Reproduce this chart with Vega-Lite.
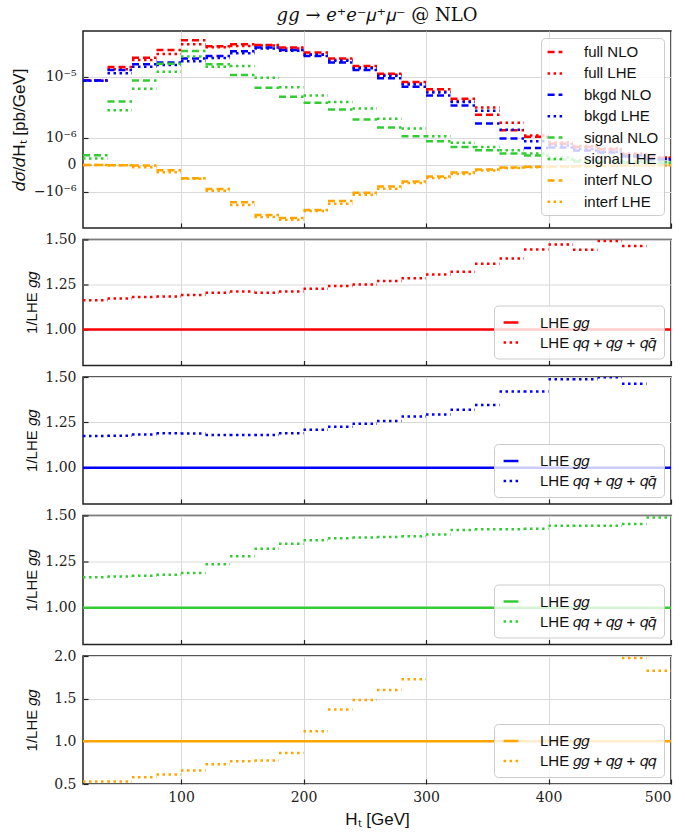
{
"$schema": "https://vega.github.io/schema/vega-lite/v6.json",
"padding": {"left": 9, "top": 6, "right": 8, "bottom": 5},
"background": "white",
"bounds": "flush",
"config": {
  "font": "Liberation Sans",
  "view": {"stroke": "#222222", "strokeWidth": 1.5},
  "axis": {"grid": true, "gridColor": "#d9d9d9", "gridWidth": 1, "domain": false, "tickColor": "#222222", "tickSize": -5, "tickWidth": 1.2, "labelFont": "DejaVu Serif", "labelFontSize": 14, "labelColor": "#222222", "labelPadding": 12, "titleFont": "Liberation Sans", "titleFontSize": 15, "titleFontWeight": "normal", "titleColor": "#111111"},
  "legend": {"title": null, "symbolType": "stroke", "symbolStrokeWidth": 2.5, "labelFontSize": 15, "labelFont": "Liberation Sans", "labelColor": "#111111", "fillColor": "rgba(255,255,255,0.8)", "strokeColor": "#cccccc", "cornerRadius": 4, "padding": 8, "offset": 7, "symbolSize": 220, "labelOffset": 20}
},
"datasets": {
"top": [
{"s":"full NLO","lo":20,"hi":40,"v":8.9e-6},{"s":"full NLO","lo":40,"hi":60,"v":1.352e-5},{"s":"full NLO","lo":60,"hi":80,"v":1.806e-5},{"s":"full NLO","lo":80,"hi":100,"v":2.278e-5},{"s":"full NLO","lo":100,"hi":120,"v":3.05e-5},{"s":"full NLO","lo":120,"hi":140,"v":2.55e-5},{"s":"full NLO","lo":140,"hi":160,"v":2.71e-5},{"s":"full NLO","lo":160,"hi":180,"v":2.65e-5},{"s":"full NLO","lo":180,"hi":200,"v":2.45e-5},{"s":"full NLO","lo":200,"hi":220,"v":2.105e-5},{"s":"full NLO","lo":220,"hi":240,"v":1.752e-5},{"s":"full NLO","lo":240,"hi":260,"v":1.394e-5},{"s":"full NLO","lo":260,"hi":280,"v":1.1e-5},{"s":"full NLO","lo":280,"hi":300,"v":8.42e-6},{"s":"full NLO","lo":300,"hi":320,"v":6.64e-6},{"s":"full NLO","lo":320,"hi":340,"v":4.86e-6},{"s":"full NLO","lo":340,"hi":360,"v":2.73e-6},{"s":"full NLO","lo":360,"hi":380,"v":1.44e-6},{"s":"full NLO","lo":380,"hi":400,"v":1.04e-6},{"s":"full NLO","lo":400,"hi":420,"v":6.9e-7},{"s":"full NLO","lo":420,"hi":440,"v":5.6e-7},{"s":"full NLO","lo":440,"hi":460,"v":4.6e-7},{"s":"full NLO","lo":460,"hi":480,"v":2.8e-7},{"s":"full NLO","lo":480,"hi":500,"v":1.8e-7},
{"s":"full LHE","lo":20,"hi":40,"v":8.8e-6},{"s":"full LHE","lo":40,"hi":60,"v":1.258e-5},{"s":"full LHE","lo":60,"hi":80,"v":1.678e-5},{"s":"full LHE","lo":80,"hi":100,"v":2.017e-5},{"s":"full LHE","lo":100,"hi":120,"v":2.71e-5},{"s":"full LHE","lo":120,"hi":140,"v":2.47e-5},{"s":"full LHE","lo":140,"hi":160,"v":2.57e-5},{"s":"full LHE","lo":160,"hi":180,"v":2.6e-5},{"s":"full LHE","lo":180,"hi":200,"v":2.38e-5},{"s":"full LHE","lo":200,"hi":220,"v":2.0e-5},{"s":"full LHE","lo":220,"hi":240,"v":1.689e-5},{"s":"full LHE","lo":240,"hi":260,"v":1.34e-5},{"s":"full LHE","lo":260,"hi":280,"v":1.059e-5},{"s":"full LHE","lo":280,"hi":300,"v":8.07e-6},{"s":"full LHE","lo":300,"hi":320,"v":6.21e-6},{"s":"full LHE","lo":320,"hi":340,"v":4.5e-6},{"s":"full LHE","lo":340,"hi":360,"v":3.58e-6},{"s":"full LHE","lo":360,"hi":380,"v":1.99e-6},{"s":"full LHE","lo":380,"hi":400,"v":1.11e-6},{"s":"full LHE","lo":400,"hi":420,"v":7.5e-7},{"s":"full LHE","lo":420,"hi":440,"v":6.0e-7},{"s":"full LHE","lo":440,"hi":460,"v":5.0e-7},{"s":"full LHE","lo":460,"hi":480,"v":3.2e-7},{"s":"full LHE","lo":480,"hi":500,"v":1.9e-7},
{"s":"bkgd NLO","lo":20,"hi":40,"v":8.85e-6},{"s":"bkgd NLO","lo":40,"hi":60,"v":1.231e-5},{"s":"bkgd NLO","lo":60,"hi":80,"v":1.47e-5},{"s":"bkgd NLO","lo":80,"hi":100,"v":1.55e-5},{"s":"bkgd NLO","lo":100,"hi":120,"v":1.752e-5},{"s":"bkgd NLO","lo":120,"hi":140,"v":1.897e-5},{"s":"bkgd NLO","lo":140,"hi":160,"v":2.19e-5},{"s":"bkgd NLO","lo":160,"hi":180,"v":2.45e-5},{"s":"bkgd NLO","lo":180,"hi":200,"v":2.278e-5},{"s":"bkgd NLO","lo":200,"hi":220,"v":1.897e-5},{"s":"bkgd NLO","lo":220,"hi":240,"v":1.55e-5},{"s":"bkgd NLO","lo":240,"hi":260,"v":1.231e-5},{"s":"bkgd NLO","lo":260,"hi":280,"v":9.48e-6},{"s":"bkgd NLO","lo":280,"hi":300,"v":7.25e-6},{"s":"bkgd NLO","lo":300,"hi":320,"v":5.43e-6},{"s":"bkgd NLO","lo":320,"hi":340,"v":3.84e-6},{"s":"bkgd NLO","lo":340,"hi":360,"v":1.93e-6},{"s":"bkgd NLO","lo":360,"hi":380,"v":9.5e-7},{"s":"bkgd NLO","lo":380,"hi":400,"v":5.2e-7},{"s":"bkgd NLO","lo":400,"hi":420,"v":5.35e-7},{"s":"bkgd NLO","lo":420,"hi":440,"v":4.2e-7},{"s":"bkgd NLO","lo":440,"hi":460,"v":3.5e-7},{"s":"bkgd NLO","lo":460,"hi":480,"v":2.2e-7},{"s":"bkgd NLO","lo":480,"hi":500,"v":1.31e-7},
{"s":"bkgd LHE","lo":20,"hi":40,"v":8.75e-6},{"s":"bkgd LHE","lo":40,"hi":60,"v":1.11e-5},{"s":"bkgd LHE","lo":60,"hi":80,"v":1.369e-5},{"s":"bkgd LHE","lo":80,"hi":100,"v":1.438e-5},{"s":"bkgd LHE","lo":100,"hi":120,"v":1.613e-5},{"s":"bkgd LHE","lo":120,"hi":140,"v":1.785e-5},{"s":"bkgd LHE","lo":140,"hi":160,"v":2.06e-5},{"s":"bkgd LHE","lo":160,"hi":180,"v":2.38e-5},{"s":"bkgd LHE","lo":180,"hi":200,"v":2.22e-5},{"s":"bkgd LHE","lo":200,"hi":220,"v":1.97e-5},{"s":"bkgd LHE","lo":220,"hi":240,"v":1.638e-5},{"s":"bkgd LHE","lo":240,"hi":260,"v":1.298e-5},{"s":"bkgd LHE","lo":260,"hi":280,"v":1.026e-5},{"s":"bkgd LHE","lo":280,"hi":300,"v":7.81e-6},{"s":"bkgd LHE","lo":300,"hi":320,"v":6.01e-6},{"s":"bkgd LHE","lo":320,"hi":340,"v":4.35e-6},{"s":"bkgd LHE","lo":340,"hi":360,"v":3.17e-6},{"s":"bkgd LHE","lo":360,"hi":380,"v":1.47e-6},{"s":"bkgd LHE","lo":380,"hi":400,"v":8.1e-7},{"s":"bkgd LHE","lo":400,"hi":420,"v":6.2e-7},{"s":"bkgd LHE","lo":420,"hi":440,"v":4.8e-7},{"s":"bkgd LHE","lo":440,"hi":460,"v":3.8e-7},{"s":"bkgd LHE","lo":460,"hi":480,"v":2.5e-7},{"s":"bkgd LHE","lo":480,"hi":500,"v":1.45e-7},
{"s":"signal NLO","lo":20,"hi":40,"v":2.6e-7},{"s":"signal NLO","lo":40,"hi":60,"v":4.42e-6},{"s":"signal NLO","lo":60,"hi":80,"v":8.88e-6},{"s":"signal NLO","lo":80,"hi":100,"v":1.502e-5},{"s":"signal NLO","lo":100,"hi":120,"v":2.21e-5},{"s":"signal NLO","lo":120,"hi":140,"v":1.47e-5},{"s":"signal NLO","lo":140,"hi":160,"v":1.052e-5},{"s":"signal NLO","lo":160,"hi":180,"v":7.02e-6},{"s":"signal NLO","lo":180,"hi":200,"v":5.2e-6},{"s":"signal NLO","lo":200,"hi":220,"v":4.23e-6},{"s":"signal NLO","lo":220,"hi":240,"v":3.33e-6},{"s":"signal NLO","lo":240,"hi":260,"v":2.27e-6},{"s":"signal NLO","lo":260,"hi":280,"v":1.62e-6},{"s":"signal NLO","lo":280,"hi":300,"v":1.07e-6},{"s":"signal NLO","lo":300,"hi":320,"v":8.1e-7},{"s":"signal NLO","lo":320,"hi":340,"v":5.6e-7},{"s":"signal NLO","lo":340,"hi":360,"v":4.3e-7},{"s":"signal NLO","lo":360,"hi":380,"v":3.2e-7},{"s":"signal NLO","lo":380,"hi":400,"v":2.5e-7},{"s":"signal NLO","lo":400,"hi":420,"v":1.31e-7},{"s":"signal NLO","lo":420,"hi":440,"v":7.6e-8},{"s":"signal NLO","lo":440,"hi":460,"v":6.3e-8},{"s":"signal NLO","lo":460,"hi":480,"v":5.0e-8},{"s":"signal NLO","lo":480,"hi":500,"v":4.2e-8},
{"s":"signal LHE","lo":20,"hi":40,"v":1.59e-7},{"s":"signal LHE","lo":40,"hi":60,"v":3.24e-6},{"s":"signal LHE","lo":60,"hi":80,"v":6.79e-6},{"s":"signal LHE","lo":80,"hi":100,"v":1.171e-5},{"s":"signal LHE","lo":100,"hi":120,"v":1.863e-5},{"s":"signal LHE","lo":120,"hi":140,"v":1.369e-5},{"s":"signal LHE","lo":140,"hi":160,"v":1.394e-5},{"s":"signal LHE","lo":160,"hi":180,"v":9.69e-6},{"s":"signal LHE","lo":180,"hi":200,"v":7.09e-6},{"s":"signal LHE","lo":200,"hi":220,"v":5.43e-6},{"s":"signal LHE","lo":220,"hi":240,"v":4.32e-6},{"s":"signal LHE","lo":240,"hi":260,"v":3.45e-6},{"s":"signal LHE","lo":260,"hi":280,"v":2.34e-6},{"s":"signal LHE","lo":280,"hi":300,"v":1.55e-6},{"s":"signal LHE","lo":300,"hi":320,"v":1.07e-6},{"s":"signal LHE","lo":320,"hi":340,"v":7.4e-7},{"s":"signal LHE","lo":340,"hi":360,"v":5.6e-7},{"s":"signal LHE","lo":360,"hi":380,"v":4.3e-7},{"s":"signal LHE","lo":380,"hi":400,"v":3.2e-7},{"s":"signal LHE","lo":400,"hi":420,"v":1.9e-7},{"s":"signal LHE","lo":420,"hi":440,"v":1.17e-7},{"s":"signal LHE","lo":440,"hi":460,"v":9e-8},{"s":"signal LHE","lo":460,"hi":480,"v":7.6e-8},{"s":"signal LHE","lo":480,"hi":500,"v":5.5e-8},
{"s":"interf NLO","lo":20,"hi":40,"v":-1e-8},{"s":"interf NLO","lo":40,"hi":60,"v":-1.7e-8},{"s":"interf NLO","lo":60,"hi":80,"v":-2.5e-8},{"s":"interf NLO","lo":80,"hi":100,"v":-1.51e-7},{"s":"interf NLO","lo":100,"hi":120,"v":-4.1e-7},{"s":"interf NLO","lo":120,"hi":140,"v":-8.7e-7},{"s":"interf NLO","lo":140,"hi":160,"v":-1.674e-6},{"s":"interf NLO","lo":160,"hi":180,"v":-2.79e-6},{"s":"interf NLO","lo":180,"hi":200,"v":-3.12e-6},{"s":"interf NLO","lo":200,"hi":220,"v":-2.3e-6},{"s":"interf NLO","lo":220,"hi":240,"v":-1.574e-6},{"s":"interf NLO","lo":240,"hi":260,"v":-1.055e-6},{"s":"interf NLO","lo":260,"hi":280,"v":-7.5e-7},{"s":"interf NLO","lo":280,"hi":300,"v":-5.35e-7},{"s":"interf NLO","lo":300,"hi":320,"v":-3.5e-7},{"s":"interf NLO","lo":320,"hi":340,"v":-2.19e-7},{"s":"interf NLO","lo":340,"hi":360,"v":-1.31e-7},{"s":"interf NLO","lo":360,"hi":380,"v":-7.6e-8},{"s":"interf NLO","lo":380,"hi":400,"v":-5.8e-8},{"s":"interf NLO","lo":400,"hi":420,"v":-5e-8},{"s":"interf NLO","lo":420,"hi":440,"v":-4e-8},{"s":"interf NLO","lo":440,"hi":460,"v":-3e-8},{"s":"interf NLO","lo":460,"hi":480,"v":-2.5e-8},{"s":"interf NLO","lo":480,"hi":500,"v":-2e-8},
{"s":"interf LHE","lo":20,"hi":40,"v":-1.2e-8},{"s":"interf LHE","lo":40,"hi":60,"v":-2e-8},{"s":"interf LHE","lo":60,"hi":80,"v":-6.8e-8},{"s":"interf LHE","lo":80,"hi":100,"v":-2.1e-7},{"s":"interf LHE","lo":100,"hi":120,"v":-4.3e-7},{"s":"interf LHE","lo":120,"hi":140,"v":-9.6e-7},{"s":"interf LHE","lo":140,"hi":160,"v":-1.872e-6},{"s":"interf LHE","lo":160,"hi":180,"v":-3.01e-6},{"s":"interf LHE","lo":180,"hi":200,"v":-3.33e-6},{"s":"interf LHE","lo":200,"hi":220,"v":-2.4e-6},{"s":"interf LHE","lo":220,"hi":240,"v":-1.771e-6},{"s":"interf LHE","lo":240,"hi":260,"v":-1.169e-6},{"s":"interf LHE","lo":260,"hi":280,"v":-8.5e-7},{"s":"interf LHE","lo":280,"hi":300,"v":-5.97e-7},{"s":"interf LHE","lo":300,"hi":320,"v":-4.0e-7},{"s":"interf LHE","lo":320,"hi":340,"v":-2.66e-7},{"s":"interf LHE","lo":340,"hi":360,"v":-1.55e-7},{"s":"interf LHE","lo":360,"hi":380,"v":-9e-8},{"s":"interf LHE","lo":380,"hi":400,"v":-6.5e-8},{"s":"interf LHE","lo":400,"hi":420,"v":-6e-8},{"s":"interf LHE","lo":420,"hi":440,"v":-4.5e-8},{"s":"interf LHE","lo":440,"hi":460,"v":-3.5e-8},{"s":"interf LHE","lo":460,"hi":480,"v":-3e-8},{"s":"interf LHE","lo":480,"hi":500,"v":-2.5e-8}
],
"ratio": [
{"p":"full","k":"LHE 𝑔𝑔","lo":20,"hi":500,"r":1},
{"p":"full","k":"LHE 𝑞𝑞 + 𝑞𝑔 + 𝑞𝑞̄","lo":20,"hi":40,"r":1.163},{"p":"full","k":"LHE 𝑞𝑞 + 𝑞𝑔 + 𝑞𝑞̄","lo":40,"hi":60,"r":1.172},{"p":"full","k":"LHE 𝑞𝑞 + 𝑞𝑔 + 𝑞𝑞̄","lo":60,"hi":80,"r":1.18},{"p":"full","k":"LHE 𝑞𝑞 + 𝑞𝑔 + 𝑞𝑞̄","lo":80,"hi":100,"r":1.183},{"p":"full","k":"LHE 𝑞𝑞 + 𝑞𝑔 + 𝑞𝑞̄","lo":100,"hi":120,"r":1.191},{"p":"full","k":"LHE 𝑞𝑞 + 𝑞𝑔 + 𝑞𝑞̄","lo":120,"hi":140,"r":1.204},{"p":"full","k":"LHE 𝑞𝑞 + 𝑞𝑔 + 𝑞𝑞̄","lo":140,"hi":160,"r":1.211},{"p":"full","k":"LHE 𝑞𝑞 + 𝑞𝑔 + 𝑞𝑞̄","lo":160,"hi":180,"r":1.204},{"p":"full","k":"LHE 𝑞𝑞 + 𝑞𝑔 + 𝑞𝑞̄","lo":180,"hi":200,"r":1.211},{"p":"full","k":"LHE 𝑞𝑞 + 𝑞𝑔 + 𝑞𝑞̄","lo":200,"hi":220,"r":1.226},{"p":"full","k":"LHE 𝑞𝑞 + 𝑞𝑔 + 𝑞𝑞̄","lo":220,"hi":240,"r":1.241},{"p":"full","k":"LHE 𝑞𝑞 + 𝑞𝑔 + 𝑞𝑞̄","lo":240,"hi":260,"r":1.25},{"p":"full","k":"LHE 𝑞𝑞 + 𝑞𝑔 + 𝑞𝑞̄","lo":260,"hi":280,"r":1.269},{"p":"full","k":"LHE 𝑞𝑞 + 𝑞𝑔 + 𝑞𝑞̄","lo":280,"hi":300,"r":1.285},{"p":"full","k":"LHE 𝑞𝑞 + 𝑞𝑔 + 𝑞𝑞̄","lo":300,"hi":320,"r":1.306},{"p":"full","k":"LHE 𝑞𝑞 + 𝑞𝑔 + 𝑞𝑞̄","lo":320,"hi":340,"r":1.321},{"p":"full","k":"LHE 𝑞𝑞 + 𝑞𝑔 + 𝑞𝑞̄","lo":340,"hi":360,"r":1.365},{"p":"full","k":"LHE 𝑞𝑞 + 𝑞𝑔 + 𝑞𝑞̄","lo":360,"hi":380,"r":1.395},{"p":"full","k":"LHE 𝑞𝑞 + 𝑞𝑔 + 𝑞𝑞̄","lo":380,"hi":400,"r":1.445},{"p":"full","k":"LHE 𝑞𝑞 + 𝑞𝑔 + 𝑞𝑞̄","lo":400,"hi":420,"r":1.472},{"p":"full","k":"LHE 𝑞𝑞 + 𝑞𝑔 + 𝑞𝑞̄","lo":420,"hi":440,"r":1.443},{"p":"full","k":"LHE 𝑞𝑞 + 𝑞𝑔 + 𝑞𝑞̄","lo":440,"hi":460,"r":1.491},{"p":"full","k":"LHE 𝑞𝑞 + 𝑞𝑔 + 𝑞𝑞̄","lo":460,"hi":480,"r":1.464},
{"p":"bkgd","k":"LHE 𝑔𝑔","lo":20,"hi":500,"r":1},
{"p":"bkgd","k":"LHE 𝑞𝑞 + 𝑞𝑔 + 𝑞𝑞̄","lo":20,"hi":40,"r":1.175},{"p":"bkgd","k":"LHE 𝑞𝑞 + 𝑞𝑔 + 𝑞𝑞̄","lo":40,"hi":60,"r":1.176},{"p":"bkgd","k":"LHE 𝑞𝑞 + 𝑞𝑔 + 𝑞𝑞̄","lo":60,"hi":80,"r":1.183},{"p":"bkgd","k":"LHE 𝑞𝑞 + 𝑞𝑔 + 𝑞𝑞̄","lo":80,"hi":100,"r":1.19},{"p":"bkgd","k":"LHE 𝑞𝑞 + 𝑞𝑔 + 𝑞𝑞̄","lo":100,"hi":120,"r":1.188},{"p":"bkgd","k":"LHE 𝑞𝑞 + 𝑞𝑔 + 𝑞𝑞̄","lo":120,"hi":140,"r":1.181},{"p":"bkgd","k":"LHE 𝑞𝑞 + 𝑞𝑔 + 𝑞𝑞̄","lo":140,"hi":160,"r":1.181},{"p":"bkgd","k":"LHE 𝑞𝑞 + 𝑞𝑔 + 𝑞𝑞̄","lo":160,"hi":180,"r":1.181},{"p":"bkgd","k":"LHE 𝑞𝑞 + 𝑞𝑔 + 𝑞𝑞̄","lo":180,"hi":200,"r":1.19},{"p":"bkgd","k":"LHE 𝑞𝑞 + 𝑞𝑔 + 𝑞𝑞̄","lo":200,"hi":220,"r":1.209},{"p":"bkgd","k":"LHE 𝑞𝑞 + 𝑞𝑔 + 𝑞𝑞̄","lo":220,"hi":240,"r":1.226},{"p":"bkgd","k":"LHE 𝑞𝑞 + 𝑞𝑔 + 𝑞𝑞̄","lo":240,"hi":260,"r":1.243},{"p":"bkgd","k":"LHE 𝑞𝑞 + 𝑞𝑔 + 𝑞𝑞̄","lo":260,"hi":280,"r":1.257},{"p":"bkgd","k":"LHE 𝑞𝑞 + 𝑞𝑔 + 𝑞𝑞̄","lo":280,"hi":300,"r":1.282},{"p":"bkgd","k":"LHE 𝑞𝑞 + 𝑞𝑔 + 𝑞𝑞̄","lo":300,"hi":320,"r":1.293},{"p":"bkgd","k":"LHE 𝑞𝑞 + 𝑞𝑔 + 𝑞𝑞̄","lo":320,"hi":340,"r":1.319},{"p":"bkgd","k":"LHE 𝑞𝑞 + 𝑞𝑔 + 𝑞𝑞̄","lo":340,"hi":360,"r":1.345},{"p":"bkgd","k":"LHE 𝑞𝑞 + 𝑞𝑔 + 𝑞𝑞̄","lo":360,"hi":380,"r":1.42},{"p":"bkgd","k":"LHE 𝑞𝑞 + 𝑞𝑔 + 𝑞𝑞̄","lo":380,"hi":400,"r":1.42},{"p":"bkgd","k":"LHE 𝑞𝑞 + 𝑞𝑔 + 𝑞𝑞̄","lo":400,"hi":420,"r":1.487},{"p":"bkgd","k":"LHE 𝑞𝑞 + 𝑞𝑔 + 𝑞𝑞̄","lo":420,"hi":440,"r":1.487},{"p":"bkgd","k":"LHE 𝑞𝑞 + 𝑞𝑔 + 𝑞𝑞̄","lo":440,"hi":460,"r":1.498},{"p":"bkgd","k":"LHE 𝑞𝑞 + 𝑞𝑔 + 𝑞𝑞̄","lo":460,"hi":480,"r":1.463},
{"p":"signal","k":"LHE 𝑔𝑔","lo":20,"hi":500,"r":1},
{"p":"signal","k":"LHE 𝑞𝑞 + 𝑞𝑔 + 𝑞𝑞̄","lo":20,"hi":40,"r":1.165},{"p":"signal","k":"LHE 𝑞𝑞 + 𝑞𝑔 + 𝑞𝑞̄","lo":40,"hi":60,"r":1.169},{"p":"signal","k":"LHE 𝑞𝑞 + 𝑞𝑔 + 𝑞𝑞̄","lo":60,"hi":80,"r":1.173},{"p":"signal","k":"LHE 𝑞𝑞 + 𝑞𝑔 + 𝑞𝑞̄","lo":80,"hi":100,"r":1.178},{"p":"signal","k":"LHE 𝑞𝑞 + 𝑞𝑔 + 𝑞𝑞̄","lo":100,"hi":120,"r":1.188},{"p":"signal","k":"LHE 𝑞𝑞 + 𝑞𝑔 + 𝑞𝑞̄","lo":120,"hi":140,"r":1.235},{"p":"signal","k":"LHE 𝑞𝑞 + 𝑞𝑔 + 𝑞𝑞̄","lo":140,"hi":160,"r":1.279},{"p":"signal","k":"LHE 𝑞𝑞 + 𝑞𝑔 + 𝑞𝑞̄","lo":160,"hi":180,"r":1.32},{"p":"signal","k":"LHE 𝑞𝑞 + 𝑞𝑔 + 𝑞𝑞̄","lo":180,"hi":200,"r":1.347},{"p":"signal","k":"LHE 𝑞𝑞 + 𝑞𝑔 + 𝑞𝑞̄","lo":200,"hi":220,"r":1.366},{"p":"signal","k":"LHE 𝑞𝑞 + 𝑞𝑔 + 𝑞𝑞̄","lo":220,"hi":240,"r":1.377},{"p":"signal","k":"LHE 𝑞𝑞 + 𝑞𝑔 + 𝑞𝑞̄","lo":240,"hi":260,"r":1.381},{"p":"signal","k":"LHE 𝑞𝑞 + 𝑞𝑔 + 𝑞𝑞̄","lo":260,"hi":280,"r":1.384},{"p":"signal","k":"LHE 𝑞𝑞 + 𝑞𝑔 + 𝑞𝑞̄","lo":280,"hi":300,"r":1.388},{"p":"signal","k":"LHE 𝑞𝑞 + 𝑞𝑔 + 𝑞𝑞̄","lo":300,"hi":320,"r":1.397},{"p":"signal","k":"LHE 𝑞𝑞 + 𝑞𝑔 + 𝑞𝑞̄","lo":320,"hi":340,"r":1.421},{"p":"signal","k":"LHE 𝑞𝑞 + 𝑞𝑔 + 𝑞𝑞̄","lo":340,"hi":360,"r":1.425},{"p":"signal","k":"LHE 𝑞𝑞 + 𝑞𝑔 + 𝑞𝑞̄","lo":360,"hi":380,"r":1.426},{"p":"signal","k":"LHE 𝑞𝑞 + 𝑞𝑔 + 𝑞𝑞̄","lo":380,"hi":400,"r":1.428},{"p":"signal","k":"LHE 𝑞𝑞 + 𝑞𝑔 + 𝑞𝑞̄","lo":400,"hi":420,"r":1.445},{"p":"signal","k":"LHE 𝑞𝑞 + 𝑞𝑔 + 𝑞𝑞̄","lo":420,"hi":440,"r":1.445},{"p":"signal","k":"LHE 𝑞𝑞 + 𝑞𝑔 + 𝑞𝑞̄","lo":440,"hi":460,"r":1.445},{"p":"signal","k":"LHE 𝑞𝑞 + 𝑞𝑔 + 𝑞𝑞̄","lo":460,"hi":480,"r":1.454},{"p":"signal","k":"LHE 𝑞𝑞 + 𝑞𝑔 + 𝑞𝑞̄","lo":480,"hi":500,"r":1.489},
{"p":"interf","k":"LHE 𝑔𝑔","lo":20,"hi":500,"r":1},
{"p":"interf","k":"LHE 𝑔𝑔 + 𝑞𝑔 + 𝑞𝑞","lo":20,"hi":40,"r":0.528},{"p":"interf","k":"LHE 𝑔𝑔 + 𝑞𝑔 + 𝑞𝑞","lo":40,"hi":60,"r":0.528},{"p":"interf","k":"LHE 𝑔𝑔 + 𝑞𝑔 + 𝑞𝑞","lo":60,"hi":80,"r":0.579},{"p":"interf","k":"LHE 𝑔𝑔 + 𝑞𝑔 + 𝑞𝑞","lo":80,"hi":100,"r":0.61},{"p":"interf","k":"LHE 𝑔𝑔 + 𝑞𝑔 + 𝑞𝑞","lo":100,"hi":120,"r":0.657},{"p":"interf","k":"LHE 𝑔𝑔 + 𝑞𝑔 + 𝑞𝑞","lo":120,"hi":140,"r":0.732},{"p":"interf","k":"LHE 𝑔𝑔 + 𝑞𝑔 + 𝑞𝑞","lo":140,"hi":160,"r":0.768},{"p":"interf","k":"LHE 𝑔𝑔 + 𝑞𝑔 + 𝑞𝑞","lo":160,"hi":180,"r":0.776},{"p":"interf","k":"LHE 𝑔𝑔 + 𝑞𝑔 + 𝑞𝑞","lo":180,"hi":200,"r":0.862},{"p":"interf","k":"LHE 𝑔𝑔 + 𝑞𝑔 + 𝑞𝑞","lo":200,"hi":220,"r":1.118},{"p":"interf","k":"LHE 𝑔𝑔 + 𝑞𝑔 + 𝑞𝑞","lo":220,"hi":240,"r":1.374},{"p":"interf","k":"LHE 𝑔𝑔 + 𝑞𝑔 + 𝑞𝑞","lo":240,"hi":260,"r":1.484},{"p":"interf","k":"LHE 𝑔𝑔 + 𝑞𝑔 + 𝑞𝑞","lo":260,"hi":280,"r":1.602},{"p":"interf","k":"LHE 𝑔𝑔 + 𝑞𝑔 + 𝑞𝑞","lo":280,"hi":300,"r":1.728},{"p":"interf","k":"LHE 𝑔𝑔 + 𝑞𝑔 + 𝑞𝑞","lo":460,"hi":480,"r":1.976},{"p":"interf","k":"LHE 𝑔𝑔 + 𝑞𝑔 + 𝑞𝑞","lo":480,"hi":500,"r":1.827}
]
},
"spacing": 11.5,
"resolve": {"scale": {"color": "independent", "strokeDash": "independent", "y": "independent", "x": "independent"}, "legend": {"color": "independent", "strokeDash": "independent"}},
"vconcat": [
{
 "width": 588, "height": 197,
 "title": {"text": "𝑔𝑔 → 𝑒⁺𝑒⁻𝜇⁺𝜇⁻ @ NLO", "font": "DejaVu Serif", "fontSize": 18, "fontWeight": "normal", "anchor": "middle", "frame": "group", "offset": 6, "color": "#111111"},
 "data": {"name": "top"},
 "mark": {"type": "rule", "strokeWidth": 2.5, "clip": true},
 "encoding": {
  "x": {"field": "lo", "type": "quantitative", "scale": {"domain": [20, 500], "nice": false, "zero": false}, "axis": {"labels": false, "title": null, "values": [100, 200, 300, 400, 500]}},
  "x2": {"field": "hi"},
  "y": {"field": "v", "type": "quantitative", "scale": {"type": "symlog", "constant": 8.3e-7, "domain": [-4.47e-6, 4.03e-5], "nice": false, "zero": false},
        "axis": {"values": [-1e-6, 0, 1e-6, 1e-5], "labelExpr": "datum.value > 5e-6 ? '10⁻⁵' : datum.value > 5e-7 ? '10⁻⁶' : datum.value < -5e-7 ? '−10⁻⁶' : '0'", "labelFont": "DejaVu Serif", "title": "𝑑𝜎/𝑑Hₜ [pb/GeV]", "titleFontSize": 17, "titleX": -64, "titleBaseline": "middle"}},
  "color": {"field": "s", "type": "nominal", "sort": null,
     "scale": {"domain": ["full NLO", "full LHE", "bkgd NLO", "bkgd LHE", "signal NLO", "signal LHE", "interf NLO", "interf LHE"], "range": ["#ff0000", "#ff0000", "#0000ff", "#0000ff", "#33cc33", "#33cc33", "#ffa500", "#ffa500"]},
     "legend": {"orient": "top-right", "rowPadding": 4.4, "padding": 5, "offset": 7}},
  "strokeDash": {"field": "s", "type": "nominal", "sort": null,
     "scale": {"domain": ["full NLO", "full LHE", "bkgd NLO", "bkgd LHE", "signal NLO", "signal LHE", "interf NLO", "interf LHE"], "range": [[7, 4], [2.5, 3.5], [7, 4], [2.5, 3.5], [7, 4], [2.5, 3.5], [7, 4], [2.5, 3.5]]}}
 }
},
{
 "width": 588, "height": 126,
 "data": {"name": "ratio"},
 "transform": [{"filter": "datum.p == 'full'"}],
 "mark": {"type": "rule", "strokeWidth": 2.5, "clip": true, "color": "#ff0000"},
 "encoding": {
  "x": {"field": "lo", "type": "quantitative", "scale": {"domain": [20, 500], "nice": false, "zero": false}, "axis": {"labels": false, "title": null, "values": [100, 200, 300, 400, 500]}},
  "x2": {"field": "hi"},
  "y": {"field": "r", "type": "quantitative", "scale": {"domain": [0.8, 1.5], "nice": false, "zero": false}, "axis": {"values": [1.0, 1.25, 1.5], "format": ".2f", "labelFont": "DejaVu Serif", "title": "1/LHE 𝑔𝑔", "titleX": -52, "titleBaseline": "middle"}},
  "strokeDash": {"field": "k", "type": "nominal", "sort": null, "scale": {"domain": ["LHE 𝑔𝑔", "LHE 𝑞𝑞 + 𝑞𝑔 + 𝑞𝑞̄"], "range": [[1, 0], [2.5, 3.5]]}, "legend": {"orient": "bottom-right", "symbolStrokeColor": "#ff0000", "rowPadding": 3}}
 }
},
{
 "width": 588, "height": 127,
 "data": {"name": "ratio"},
 "transform": [{"filter": "datum.p == 'bkgd'"}],
 "mark": {"type": "rule", "strokeWidth": 2.5, "clip": true, "color": "#0000ff"},
 "encoding": {
  "x": {"field": "lo", "type": "quantitative", "scale": {"domain": [20, 500], "nice": false, "zero": false}, "axis": {"labels": false, "title": null, "values": [100, 200, 300, 400, 500]}},
  "x2": {"field": "hi"},
  "y": {"field": "r", "type": "quantitative", "scale": {"domain": [0.8, 1.5], "nice": false, "zero": false}, "axis": {"values": [1.0, 1.25, 1.5], "format": ".2f", "labelFont": "DejaVu Serif", "title": "1/LHE 𝑔𝑔", "titleX": -52, "titleBaseline": "middle"}},
  "strokeDash": {"field": "k", "type": "nominal", "sort": null, "scale": {"domain": ["LHE 𝑔𝑔", "LHE 𝑞𝑞 + 𝑞𝑔 + 𝑞𝑞̄"], "range": [[1, 0], [2.5, 3.5]]}, "legend": {"orient": "bottom-right", "symbolStrokeColor": "#0000ff", "rowPadding": 3}}
 }
},
{
 "width": 588, "height": 129,
 "data": {"name": "ratio"},
 "transform": [{"filter": "datum.p == 'signal'"}],
 "mark": {"type": "rule", "strokeWidth": 2.5, "clip": true, "color": "#33cc33"},
 "encoding": {
  "x": {"field": "lo", "type": "quantitative", "scale": {"domain": [20, 500], "nice": false, "zero": false}, "axis": {"labels": false, "title": null, "values": [100, 200, 300, 400, 500]}},
  "x2": {"field": "hi"},
  "y": {"field": "r", "type": "quantitative", "scale": {"domain": [0.8, 1.5], "nice": false, "zero": false}, "axis": {"values": [1.0, 1.25, 1.5], "format": ".2f", "labelFont": "DejaVu Serif", "title": "1/LHE 𝑔𝑔", "titleX": -52, "titleBaseline": "middle"}},
  "strokeDash": {"field": "k", "type": "nominal", "sort": null, "scale": {"domain": ["LHE 𝑔𝑔", "LHE 𝑞𝑞 + 𝑞𝑔 + 𝑞𝑞̄"], "range": [[1, 0], [2.5, 3.5]]}, "legend": {"orient": "bottom-right", "symbolStrokeColor": "#33cc33", "rowPadding": 3}}
 }
},
{
 "width": 588, "height": 128,
 "data": {"name": "ratio"},
 "transform": [{"filter": "datum.p == 'interf'"}],
 "mark": {"type": "rule", "strokeWidth": 2.5, "clip": true, "color": "#ffa500"},
 "encoding": {
  "x": {"field": "lo", "type": "quantitative", "scale": {"domain": [20, 500], "nice": false, "zero": false}, "axis": {"values": [100, 200, 300, 400, 500], "format": "d", "labelFont": "DejaVu Serif", "labelPadding": 11, "title": "Hₜ [GeV]", "titleFontSize": 17, "titlePadding": 7}},
  "x2": {"field": "hi"},
  "y": {"field": "r", "type": "quantitative", "scale": {"domain": [0.5, 2.0], "nice": false, "zero": false}, "axis": {"values": [0.5, 1.0, 1.5, 2.0], "format": ".1f", "labelFont": "DejaVu Serif", "title": "1/LHE 𝑔𝑔", "titleX": -52, "titleBaseline": "middle"}},
  "strokeDash": {"field": "k", "type": "nominal", "sort": null, "scale": {"domain": ["LHE 𝑔𝑔", "LHE 𝑔𝑔 + 𝑞𝑔 + 𝑞𝑞"], "range": [[1, 0], [2.5, 3.5]]}, "legend": {"orient": "bottom-right", "symbolStrokeColor": "#ffa500", "rowPadding": 3}}
 }
}
]
}
